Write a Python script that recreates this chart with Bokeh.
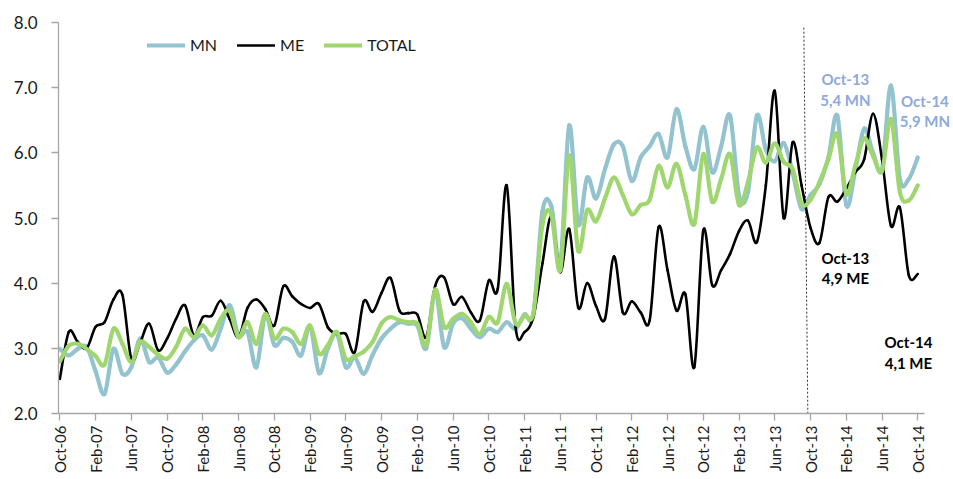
import numpy as np
from bokeh.plotting import figure
from bokeh.models import FixedTicker, Range1d, Legend, LegendItem, Label, NumeralTickFormatter
from bokeh.embed import file_html
from bokeh.resources import INLINE

# ---------------- data ----------------
tick_labels = ["Oct-06", "Feb-07", "Jun-07", "Oct-07", "Feb-08", "Jun-08", "Oct-08",
               "Feb-09", "Jun-09", "Oct-09", "Feb-10", "Jun-10", "Oct-10", "Feb-11",
               "Jun-11", "Oct-11", "Feb-12", "Jun-12", "Oct-12", "Feb-13", "Jun-13",
               "Oct-13", "Feb-14", "Jun-14", "Oct-14"]

mn = [2.99, 2.89, 2.99, 3.02, 2.65, 2.30, 2.99, 2.61, 2.71, 3.15, 2.79, 2.86, 2.63, 2.75,
      2.95, 3.12, 3.20, 2.98, 3.30, 3.66, 3.20, 3.25, 2.71, 3.52, 3.05, 3.16, 3.10, 2.89,
      3.34, 2.62, 3.00, 3.22, 2.71, 2.86, 2.61, 2.90, 3.15, 3.30, 3.40, 3.38, 3.35, 3.00,
      3.88, 3.02, 3.38, 3.46, 3.30, 3.17, 3.30, 3.25, 3.40, 3.30, 3.52, 3.52, 5.10, 5.18,
      4.30, 6.42, 4.90, 5.62, 5.30, 5.75, 6.13, 6.10, 5.57, 5.93, 6.10, 6.29, 5.93, 6.67,
      6.10, 5.75, 6.40, 5.70, 6.10, 6.57, 5.35, 5.40, 6.57, 6.05, 5.87, 6.15, 5.70, 5.14,
      5.35, 5.52, 5.93, 6.57, 5.20, 5.72, 6.37, 6.00, 5.75, 7.03, 5.60, 5.60, 5.93]

me = [2.53, 3.25, 3.10, 3.00, 3.33, 3.40, 3.75, 3.82, 2.84, 3.09, 3.38, 2.97, 3.15, 3.45,
      3.66, 3.20, 3.48, 3.50, 3.73, 3.45, 3.17, 3.62, 3.75, 3.60, 3.35, 3.95, 3.80, 3.68,
      3.62, 3.68, 3.32, 3.22, 3.22, 2.94, 3.72, 3.56, 3.85, 4.08, 3.58, 3.54, 3.52, 3.17,
      3.96, 4.09, 3.68, 3.79, 3.55, 3.43, 4.04, 3.91, 5.50, 3.32, 3.25, 3.49, 4.30, 5.02,
      4.17, 4.83, 3.63, 4.00, 3.65, 3.45, 4.41, 3.55, 3.72, 3.55, 3.43, 4.86, 4.20, 3.58,
      3.83, 2.71, 4.81, 3.97, 4.20, 4.45, 4.80, 4.96, 4.63, 5.50, 6.95, 5.00, 6.16, 5.50,
      4.85, 4.62, 5.32, 5.25, 5.45, 5.70, 5.90, 6.60, 5.90, 4.88, 5.16, 4.12, 4.14]

total = [2.80, 3.04, 3.07, 2.99, 2.88, 2.75, 3.30, 3.07, 2.79, 3.10, 3.02, 2.90, 2.84, 3.02,
         3.30, 3.17, 3.35, 3.20, 3.45, 3.58, 3.17, 3.40, 3.07, 3.53, 3.15, 3.30, 3.25, 3.07,
         3.35, 2.92, 3.05, 3.25, 2.84, 2.88, 2.95, 3.10, 3.38, 3.48, 3.43, 3.40, 3.38, 3.05,
         3.90, 3.33, 3.45, 3.53, 3.40, 3.22, 3.48, 3.40, 3.99, 3.38, 3.50, 3.55, 4.90, 5.05,
         4.20, 5.96, 4.50, 5.12, 4.95, 5.30, 5.62, 5.35, 5.06, 5.20, 5.28, 5.80, 5.47, 5.83,
         5.35, 4.91, 5.98, 5.25, 5.60, 5.98, 5.20, 5.55, 6.08, 5.85, 6.14, 5.86, 5.75, 5.22,
         5.28, 5.55, 5.90, 6.29, 5.37, 5.80, 6.22, 5.95, 5.72, 6.52, 5.40, 5.27, 5.50]

series_names = ["MN", "ME", "TOTAL"]
y_ticks = [2.0, 3.0, 4.0, 5.0, 6.0, 7.0, 8.0]

# annotation texts
ann_mn_13 = ["Oct-13", "5,4 MN"]
ann_mn_14 = ["Oct-14", "5,9 MN"]
ann_me_13 = ["Oct-13", "4,9 ME"]
ann_me_14 = ["Oct-14", "4,1 ME"]

months = list(range(len(mn)))
tick_pos = [4 * i for i in range(len(tick_labels))]

# ---------------- styles ----------------
C_MN = "#93C3CF"
C_ME = "#000000"
C_TOT = "#A0D66F"
C_ANN_MN = "#8EA9DB"
FONT = "Lato"


def bezier_parts(x, y, t=1.0 / 6.0):
    x = np.asarray(x, dtype=float)
    y = np.asarray(y, dtype=float)
    n = len(x)
    idx = np.arange(n - 1)
    im1 = np.clip(idx - 1, 0, n - 1)
    ip1 = idx + 1
    ip2 = np.clip(idx + 2, 0, n - 1)
    cx0 = x[idx] + (x[ip1] - x[im1]) * t
    cy0 = y[idx] + (y[ip1] - y[im1]) * t
    cx1 = x[ip1] - (x[ip2] - x[idx]) * t
    cy1 = y[ip1] - (y[ip2] - y[idx]) * t
    return dict(x0=x[idx], y0=y[idx], x1=x[ip1], y1=y[ip1],
                cx0=cx0, cy0=cy0, cx1=cx1, cy1=cy1)


AXIS_END = 96.75
p = figure(width=953, height=479, output_backend="svg", toolbar_location=None,
           x_range=Range1d(-0.15, 100.0), y_range=Range1d(2.0, 8.0),
           min_border_left=58, min_border_right=0, min_border_top=22,
           min_border_bottom=66)
p.outline_line_color = None
p.grid.visible = False
p.background_fill_color = "white"
p.border_fill_color = "white"

# axes
for ax in (p.xaxis[0], p.yaxis[0]):
    ax.axis_line_color = "#A6A6A6"
    ax.axis_line_width = 1.3
    ax.major_tick_line_color = "#A6A6A6"
    ax.major_tick_line_width = 1.3
    ax.minor_tick_line_color = None
    ax.major_tick_in = 0
    ax.major_tick_out = 7
    ax.major_label_text_font = FONT
    ax.major_label_text_color = "#1a1a1a"

p.xaxis.bounds = (-0.15, AXIS_END)
p.xaxis.ticker = FixedTicker(ticks=tick_pos)
p.xaxis.major_label_overrides = {tp: lab for tp, lab in zip(tick_pos, tick_labels)}
p.xaxis.major_label_orientation = np.pi / 2
p.xaxis.major_label_text_font_size = "15px"
p.xaxis.major_label_standoff = 5

p.yaxis.ticker = FixedTicker(ticks=y_ticks)
p.yaxis.formatter = NumeralTickFormatter(format="0.0")
p.yaxis.major_label_text_font_size = "17px"
p.yaxis.major_label_standoff = 14

# split line
split_month = 83.5
p.segment(x0=[split_month - 0.25], y0=[7.92], x1=[split_month + 0.2], y1=[2.0],
          line_color="#333333", line_width=1, line_dash="2 2")

# series (smoothed with bezier glyphs)
renderers = {}
for name, vals, col, lw in [("MN", mn, C_MN, 4.2), ("ME", me, C_ME, 2.6),
                            ("TOTAL", total, C_TOT, 4.2)]:
    parts = bezier_parts(months, vals)
    renderers[name] = p.bezier(line_color=col, line_width=lw, line_cap="round", **parts)

legend = Legend(items=[LegendItem(label=n, renderers=[renderers[n]], index=0)
                       for n in series_names],
                orientation="horizontal", location=(89, 359),
                glyph_width=38, glyph_height=18, label_standoff=5, spacing=20,
                padding=0, margin=0, border_line_color=None, background_fill_alpha=0,
                label_text_font=FONT, label_text_font_size="16px",
                label_text_color="#1a1a1a")
p.add_layout(legend)

# annotations
def add_lines(texts, x, y_top, dy, color):
    for k, t in enumerate(texts):
        p.add_layout(Label(x=x, y=y_top - k * dy, text=t, text_align="center",
                           text_baseline="middle", text_font=FONT,
                           text_font_style="bold", text_font_size="15px",
                           text_color=color))

add_lines(ann_mn_13, 87.9, 7.14, 0.33, C_ANN_MN)
add_lines(ann_mn_14, 96.8, 6.80, 0.31, C_ANN_MN)
add_lines(ann_me_13, 87.9, 4.39, 0.31, "#000000")
add_lines(ann_me_14, 94.96, 3.10, 0.32, "#000000")

open("out.html", "w").write(file_html(p, INLINE))
